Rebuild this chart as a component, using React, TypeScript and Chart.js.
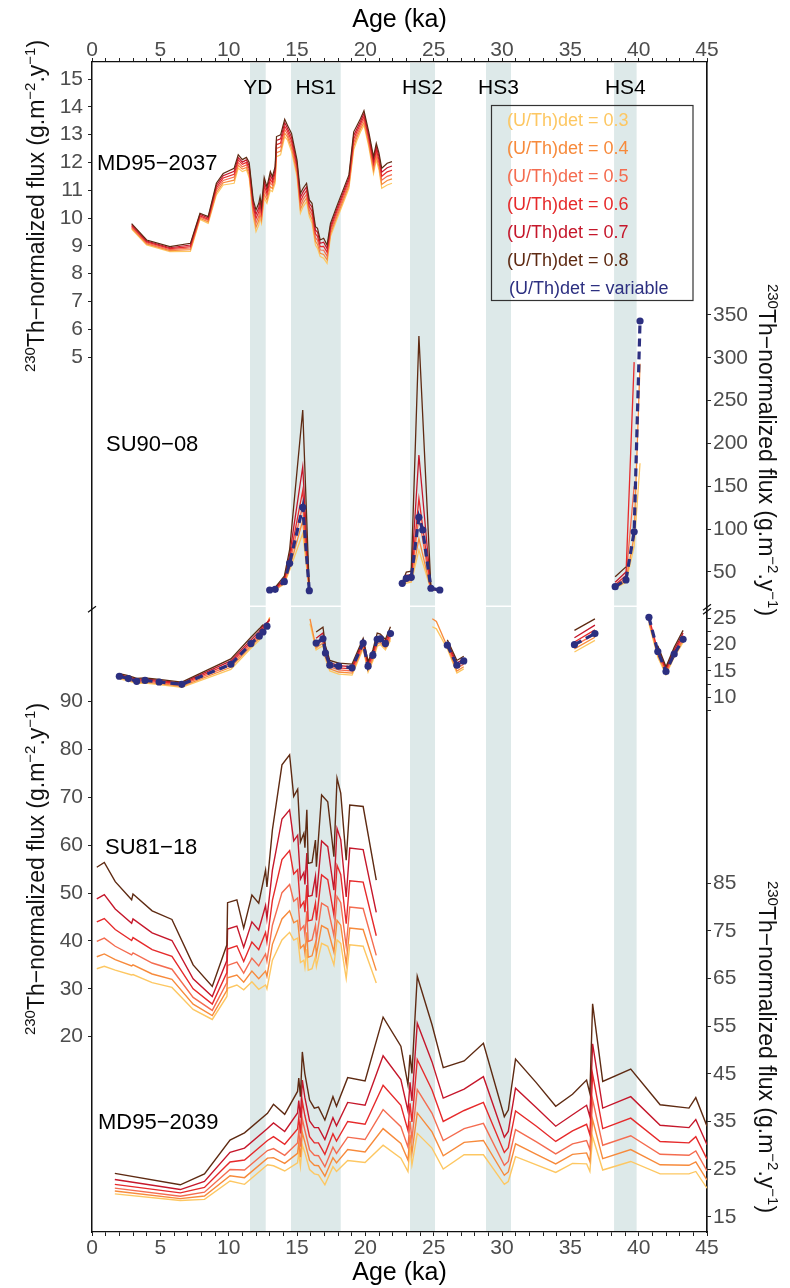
import { useEffect, useRef } from 'react';
import { Chart, registerables } from 'chart.js';

Chart.register(...registerables);

const FONT = "'Liberation Sans', Arial, Helvetica, sans-serif";

// ---------------- colours ----------------
const C03 = '#FDC762';
const C04 = '#F78A3B';
const C05 = '#F46C50';
const C06 = '#E62A2B';
const C07 = '#C5172B';
const C08 = '#5E2A12';
const NAVY = '#2C2F80';
const BAND = '#DDE9E9';

// ---------------- x axis & events ----------------
const xMajorLabels = [0, 5, 10, 15, 20, 25, 30, 35, 40, 45];
const bandNames = ['YD', 'HS1', 'HS2', 'HS3', 'HS4'];
const bandStart = [11.56, 14.56, 23.27, 28.83, 38.2];
const bandEnd = [12.71, 18.2, 25.1, 30.66, 39.85];

// ---------------- y tick labels ----------------
const md2037Ticks = [5, 6, 7, 8, 9, 10, 11, 12, 13, 14, 15];
const su9008UpperTicks = [50, 100, 150, 200, 250, 300, 350];
const su9008LowerTicks = [7.5, 10, 12.5, 15, 17.5, 20, 22.5, 25];
const su8118Ticks = [20, 30, 40, 50, 60, 70, 80, 90];
const md2039Ticks = [15, 25, 35, 45, 55, 65, 75, 85];

const legendLabels = [
  '(U/Th)det = 0.3', '(U/Th)det = 0.4', '(U/Th)det = 0.5',
  '(U/Th)det = 0.6', '(U/Th)det = 0.7', '(U/Th)det = 0.8', '(U/Th)det = variable',
];
const coreNames = ['MD95\u22122037', 'SU90\u221208', 'SU81\u221218', 'MD95\u22122039'];

// ---------------- MD95-2037 ----------------
const md2037Ages = [2.9, 4.0, 5.7, 7.2, 7.9, 8.5, 9.1, 9.6, 10.4, 10.7, 11.0, 11.3, 11.5, 11.8, 12.0, 12.2, 12.3, 12.4, 12.6, 12.8, 13.05, 13.2, 13.4, 13.5, 13.8, 14.1, 14.3, 14.6, 15.0, 15.25, 15.45, 15.7, 15.9, 16.1, 16.35, 16.5, 16.7, 16.95, 17.2, 17.45, 17.9, 18.8, 19.15, 19.4, 19.65, 19.9, 20.25, 20.6, 20.8, 21.0, 21.2, 21.6, 21.95];
const md2037U03 = [9.60, 9.03, 8.79, 8.80, 9.95, 9.81, 10.83, 11.19, 11.25, 11.80, 11.67, 11.73, 11.45, 10.05, 9.51, 9.75, 9.99, 9.81, 10.71, 10.53, 11.0, 10.95, 11.25, 12.21, 12.27, 12.93, 12.81, 12.39, 11.49, 10.17, 10.41, 10.59, 10.05, 9.81, 9.03, 8.91, 8.61, 8.55, 8.37, 9.33, 9.93, 11.07, 12.45, 12.81, 13.10, 13.34, 12.57, 11.60, 12.09, 11.73, 11.07, 11.19, 11.25];
const md2037U04 = [9.64, 9.07, 8.83, 8.86, 9.99, 9.86, 10.91, 11.27, 11.36, 11.90, 11.76, 11.82, 11.56, 10.17, 9.67, 9.91, 10.15, 9.93, 10.86, 10.65, 11.13, 11.06, 11.37, 12.35, 12.41, 13.05, 12.92, 12.52, 11.61, 10.31, 10.54, 10.72, 10.17, 9.95, 9.16, 9.05, 8.73, 8.69, 8.50, 9.43, 10.03, 11.17, 12.58, 12.92, 13.20, 13.44, 12.68, 11.72, 12.21, 11.85, 11.21, 11.35, 11.41];
const md2037U05 = [9.68, 9.10, 8.86, 8.92, 10.04, 9.91, 11.0, 11.35, 11.47, 11.99, 11.84, 11.91, 11.67, 10.29, 9.82, 10.06, 10.30, 10.05, 11.01, 10.77, 11.27, 11.17, 11.49, 12.50, 12.56, 13.18, 13.02, 12.65, 11.73, 10.46, 10.67, 10.85, 10.29, 10.10, 9.29, 9.20, 8.85, 8.84, 8.63, 9.52, 10.12, 11.26, 12.71, 13.02, 13.29, 13.55, 12.78, 11.84, 12.33, 11.97, 11.36, 11.50, 11.56];
const md2037U06 = [9.72, 9.14, 8.90, 8.97, 10.08, 9.95, 11.08, 11.44, 11.57, 12.09, 11.93, 12.0, 11.78, 10.41, 9.98, 10.22, 10.46, 10.17, 11.16, 10.88, 11.40, 11.27, 11.61, 12.64, 12.70, 13.30, 13.13, 12.78, 11.85, 10.60, 10.81, 10.99, 10.41, 10.24, 9.43, 9.34, 8.97, 8.98, 8.77, 9.62, 10.22, 11.36, 12.84, 13.13, 13.39, 13.65, 12.89, 11.96, 12.45, 12.09, 11.50, 11.66, 11.72];
const md2037U07 = [9.76, 9.17, 8.93, 9.03, 10.13, 10.0, 11.17, 11.52, 11.68, 12.18, 12.01, 12.09, 11.89, 10.53, 10.13, 10.37, 10.61, 10.29, 11.31, 11.0, 11.54, 11.38, 11.73, 12.79, 12.85, 13.43, 13.23, 12.91, 11.97, 10.75, 10.94, 11.12, 10.53, 10.39, 9.56, 9.49, 9.09, 9.13, 8.90, 9.71, 10.31, 11.45, 12.97, 13.23, 13.48, 13.76, 12.99, 12.08, 12.57, 12.21, 11.65, 11.81, 11.87];
const md2037U08 = [9.80, 9.21, 8.97, 9.09, 10.17, 10.05, 11.25, 11.60, 11.79, 12.28, 12.10, 12.18, 12.00, 10.65, 10.29, 10.53, 10.77, 10.41, 11.46, 11.12, 11.67, 11.49, 11.85, 12.93, 12.99, 13.55, 13.34, 13.04, 12.09, 10.89, 11.07, 11.25, 10.65, 10.53, 9.69, 9.63, 9.21, 9.27, 9.03, 9.81, 10.41, 11.55, 13.10, 13.34, 13.58, 13.86, 13.10, 12.20, 12.69, 12.33, 11.79, 11.97, 12.03];

// ---------------- SU90-08 (upper panel, large fluxes) ----------------
const su9008UpperAges = [13.0, 13.4, 14.07, 14.46, 15.42, 15.9, 19, 22.7, 23.0, 23.36, 23.92, 24.8, 25.45, 30, 38.28, 39.07, 39.67, 40.1];
const su9008UpperU03 = [28.5, 29.0, 36, 52, 95, 27.5, null, 34, 37, 38, 75.7, 29, 28, null, 31, 38, 80, 177];
const su9008UpperU04 = [29, 29.5, 37, 55, 110, 27.8, null, 35, 39, 40, 89.3, 29.5, 28.3, null, 32, 40, 92, 293];
const su9008UpperU05 = [29.5, 30, 38.5, 60, 128, 28, null, 35.5, 41, 42, 114.5, 30, 28.6, null, 33, 43, 150, null];
const su9008UpperU06 = [30, 30.5, 40, 65, 145, 28.2, null, 36, 43, 44, 136, 30.5, 28.9, null, 35, 46, 295, null];
const su9008UpperU07 = [30.5, 31, 42, 70, 173, 28.4, null, 37, 46, 47, 186.6, 31, 29.2, null, 38, 50, null, null];
const su9008UpperU08 = [31, 32, 45, 76, 239, 28.6, null, 38, 50, 51, 325.5, 31.5, 29.5, null, 44.5, 56, null, null];
const su9008UpperVarAges = [13.0, 13.4, 14.07, 14.46, 15.42, 15.9, 19, 22.7, 23.0, 23.36, 23.92, 24.2, 24.8, 25.45, 30, 38.28, 39.07, 39.67, 40.1];
const su9008UpperVar = [29.0, 29.8, 38.7, 60.1, 125.5, 28.2, null, 36.8, 42.6, 43.8, 113.8, 99.0, 31.0, 29.0, null, 32.9, 40.7, 97, 343];

// ---------------- SU90-08 (lower panel) ----------------
const su9008LowerAges = [2.0, 2.66, 3.27, 3.88, 4.91, 6.57, 10.16, 11.63, 12.24, 12.51, 13.0, 14.5, 15.95, 16.4, 16.9, 17.08, 17.4, 18.05, 19.03, 19.84, 20.2, 20.55, 20.87, 21.1, 21.47, 21.84, 23.5, 24.9, 25.2, 26.0, 26.7, 27.2, 31, 35.3, 36.8, 38.5, 40.75, 41.4, 42.0, 42.6, 43.25];
const su9008LowerU03 = [13.5, 13.1, 12.6, 12.7, 12.4, 11.9, 15.3, 19.3, 20.8, 22.0, 25.2, null, 24.0, 19.0, 19.8, 17.3, 15.0, 14.4, 14.2, 19.2, 14.8, 16.9, 19.7, 20.0, 19.0, 20.8, null, 23.4, 23.0, 19.2, 14.6, 15.4, null, 18.6, 20.8, null, 24.0, 17.6, 14.3, 17.6, 20.4];
const su9008LowerU04 = [13.7, 13.3, 12.8, 12.9, 12.6, 12.1, 15.7, 19.7, 21.2, 22.4, 25.0, null, 24.9, 19.4, 20.3, 17.7, 15.4, 14.8, 14.6, 19.6, 15.2, 17.3, 20.1, 20.4, 19.4, 21.2, null, 24.9, 24.4, 19.6, 15.0, 15.8, null, 19.2, 21.4, null, 24.4, 18.0, 14.6, 17.9, 20.8];
const su9008LowerU05 = [13.9, 13.5, 13.0, 13.1, 12.8, 12.3, 16.1, 20.1, 21.6, 22.8, 24.9, null, null, 19.9, 20.8, 18.1, 15.8, 15.2, 15.0, 20.0, 15.6, 17.7, 20.5, 20.8, 19.8, 21.6, null, null, null, 19.9, 15.5, 16.3, null, 19.8, 22.0, null, 24.8, 18.4, 14.9, 18.2, 21.2];
const su9008LowerU06 = [14.1, 13.7, 13.2, 13.3, 13.0, 12.5, 16.5, 20.5, 22.0, 23.2, 24.8, null, null, 20.4, 21.4, 18.6, 16.2, 15.6, 15.4, 20.4, 16.0, 18.1, 21.0, 21.2, 20.2, 22.0, null, null, null, 20.2, 16.0, 16.8, null, 20.5, 22.8, null, 25.2, 18.8, 15.2, 18.6, 21.7];
const su9008LowerU07 = [14.3, 13.9, 13.4, 13.5, 13.2, 12.7, 16.9, 20.9, 22.5, 23.6, 24.6, null, null, 21.2, 22.2, 19.2, 16.6, 16.0, 15.8, 20.8, 16.4, 18.5, 21.5, 21.6, 20.6, 22.6, null, null, null, 20.5, 16.5, 17.3, null, 21.3, 23.7, null, null, 19.3, 15.5, 19.0, 22.2];
const su9008LowerU08 = [14.5, 14.1, 13.6, 13.7, 13.4, 12.9, 17.3, 21.4, 23.0, 23.8, null, null, null, 22.4, 23.3, 19.8, 17.0, 16.5, 16.3, 21.2, 16.8, 19.0, 22.2, 22.0, 21.0, 23.4, null, null, null, 20.9, 17.0, 17.8, null, 22.7, 24.9, null, null, 19.8, 15.8, 19.5, 22.7];
const su9008LowerVarAges = [2.0, 2.66, 3.27, 3.88, 4.91, 6.57, 10.16, 11.63, 12.24, 12.51, 12.8, 14.5, 16.4, 16.9, 17.08, 17.4, 18.05, 19.03, 19.84, 20.2, 20.55, 20.87, 21.1, 21.47, 21.84, 23.5, 26.0, 26.7, 27.2, 31, 35.3, 36.8, 38.5, 40.75, 41.4, 42.0, 42.6, 43.25];
const su9008LowerVar = [14.0, 13.55, 13.04, 13.2, 12.9, 12.47, 16.27, 20.2, 21.6, 22.4, 23.5, null, 20.3, 21.1, 18.4, 16.1, 15.9, 15.6, 20.3, 15.9, 18.0, 21.0, 21.1, 20.2, 22.1, null, 19.9, 16.1, 16.9, null, 20.0, 22.1, null, 25.2, 18.7, 14.9, 18.2, 21.0];

// ---------------- SU81-18 ----------------
const su8118Ages = [0.35, 0.9, 1.7, 2.9, 3.0, 4.4, 5.85, 7.4, 8.8, 9.87, 9.92, 10.6, 11.1, 11.7, 12.2, 12.7, 12.8, 13.2, 13.9, 14.46, 14.76, 15.05, 15.25, 15.5, 15.58, 15.72, 15.82, 16.1, 16.35, 16.42, 16.8, 17.25, 17.7, 17.93, 18.2, 18.6, 18.86, 19.84, 20.8];
const su8118U03 = [34.2, 34.7, 33.9, 32.9, 33.0, 31.3, 30.3, 25.7, 23.6, 28.4, 30.1, 30.8, 29.8, 31.5, 29.9, 30.8, 30.0, 36.0, 40.2, 41.8, 40.2, 40.6, 35.5, 36.0, 34.5, 38.3, 33.9, 34.2, 36.7, 34.7, 39.5, 38.9, 35.0, 40.2, 39.5, 32.2, 39.2, 38.9, 31.2];
const su8118U04 = [36.7, 37.3, 36.1, 34.8, 35.0, 33.1, 32.0, 26.8, 24.4, 29.7, 32.3, 32.9, 31.4, 33.7, 32.1, 33.7, 32.6, 39.3, 44.6, 46.3, 43.8, 44.3, 38.5, 39.2, 37.5, 41.8, 36.6, 36.9, 39.6, 37.2, 43.2, 42.5, 37.7, 44.3, 43.3, 35.2, 42.7, 42.4, 33.8];
const su8118U05 = [39.9, 40.6, 38.9, 37.1, 37.5, 35.4, 34.1, 28.2, 25.5, 31.3, 34.9, 35.6, 33.3, 36.4, 34.8, 37.3, 35.8, 43.3, 50.1, 51.8, 48.3, 49.0, 42.3, 43.2, 41.3, 46.2, 39.9, 40.2, 43.3, 40.3, 47.9, 47.1, 41.1, 49.3, 48.0, 38.9, 47.1, 46.8, 37.0];
const su8118U06 = [44.0, 44.7, 42.4, 40.1, 40.7, 38.2, 36.8, 30.0, 26.8, 33.4, 38.3, 39.0, 35.7, 39.8, 38.2, 41.8, 39.8, 48.5, 57.0, 58.9, 54.0, 54.9, 47.1, 48.2, 46.0, 51.7, 44.2, 44.4, 47.9, 44.3, 53.8, 52.8, 45.4, 55.8, 53.9, 43.6, 52.6, 52.3, 41.1];
const su8118U07 = [48.8, 49.7, 46.7, 43.7, 44.6, 41.7, 40.1, 32.1, 28.4, 35.9, 42.5, 43.1, 38.7, 44.0, 42.3, 47.4, 44.7, 54.8, 65.5, 67.4, 60.9, 62.1, 52.9, 54.3, 51.8, 58.4, 49.3, 49.5, 53.5, 49.1, 60.9, 59.7, 50.6, 63.5, 61.2, 49.2, 59.4, 59.1, 46.0];
const su8118U08 = [55.4, 56.4, 52.4, 48.6, 49.8, 46.3, 44.5, 35.0, 30.5, 39.2, 48.0, 48.6, 42.7, 49.6, 47.9, 54.8, 51.3, 63.2, 76.8, 78.9, 70.2, 71.7, 60.7, 62.5, 59.5, 67.4, 56.2, 56.4, 61.1, 55.5, 70.5, 69.1, 57.6, 74.0, 70.9, 56.9, 68.4, 68.1, 52.7];

// ---------------- MD95-2039 ----------------
const md2039Ages = [1.67, 6.46, 8.23, 10.1, 11.16, 12.84, 13.28, 14.1, 15.04, 15.13, 15.25, 15.39, 15.57, 15.92, 16.27, 16.57, 17.04, 17.63, 17.89, 18.71, 19.98, 21.3, 22.6, 23.12, 23.27, 23.41, 23.8, 24.88, 25.7, 27.23, 28.64, 30.17, 30.46, 30.99, 32.52, 33.93, 35.16, 36.19, 36.43, 36.63, 37.37, 39.42, 41.57, 43.68, 44.18, 45.0];
const md2039U03 = [19.8, 18.4, 18.65, 22.5, 21.8, 25.9, 25.7, 24.6, 26.3, 28.5, 25.6, 30.0, 28.5, 24.9, 24.0, 23.8, 21.7, 25.5, 24.5, 26.8, 26.4, 30.0, 27.3, 24.5, 29.7, 25.9, 32.5, 29.4, 25.0, 28.0, 28.0, 21.8, 22.4, 27.6, 25.9, 24.3, 26.2, 26.1, 24.5, 31.8, 24.8, 26.6, 24.0, 24.0, 24.5, 21.0];
const md2039U04 = [20.4, 18.8, 19.35, 23.6, 23.2, 27.3, 27.4, 26.2, 28.3, 30.5, 27.5, 32.6, 30.7, 26.8, 25.8, 25.7, 23.5, 27.4, 26.3, 29.1, 28.6, 33.5, 30.4, 26.9, 32.2, 28.4, 36.8, 32.8, 27.8, 30.6, 31.0, 23.7, 24.4, 30.3, 28.1, 26.1, 28.1, 28.4, 26.6, 35.4, 27.2, 29.1, 25.9, 25.8, 26.5, 22.7];
const md2039U05 = [21.0, 19.3, 20.15, 24.9, 24.8, 28.9, 29.3, 27.9, 30.5, 32.9, 29.7, 35.5, 33.2, 29.0, 27.9, 27.8, 25.5, 29.6, 28.3, 31.7, 31.2, 37.5, 33.9, 29.6, 35.1, 31.3, 41.7, 36.7, 31.0, 33.5, 34.6, 25.8, 26.6, 33.3, 30.7, 28.2, 30.3, 31.0, 29.1, 39.6, 30.0, 32.0, 28.1, 27.9, 28.8, 24.6];
const md2039U06 = [21.8, 20.0, 21.16, 26.5, 26.9, 31.0, 31.8, 30.2, 33.4, 35.8, 32.5, 39.2, 36.3, 31.8, 30.5, 30.5, 28.1, 32.4, 30.9, 35.0, 34.4, 42.6, 38.4, 33.1, 38.8, 34.9, 48.0, 41.6, 35.0, 37.3, 39.0, 28.5, 29.5, 37.2, 34.0, 30.8, 33.0, 34.4, 32.2, 44.9, 33.5, 35.7, 30.8, 30.5, 31.8, 27.1];
const md2039U07 = [22.8, 20.7, 22.4, 28.5, 29.4, 33.5, 34.7, 32.9, 36.8, 39.4, 35.8, 43.7, 40.1, 35.1, 33.7, 33.7, 31.2, 35.8, 34.1, 39.0, 38.4, 48.8, 43.8, 37.2, 43.2, 39.3, 55.6, 47.5, 39.9, 41.8, 44.4, 31.7, 32.9, 42.0, 37.9, 34.0, 36.4, 38.4, 36.0, 51.3, 37.8, 40.2, 34.2, 33.7, 35.4, 30.1];
const md2039U08 = [24.1, 21.7, 24.0, 31.1, 32.6, 36.7, 38.6, 36.5, 41.3, 44.1, 40.2, 49.6, 45.1, 39.5, 37.8, 38.0, 35.3, 40.2, 38.2, 44.2, 43.5, 56.9, 50.8, 42.7, 49.0, 45.1, 65.5, 55.3, 46.3, 47.7, 51.4, 36.0, 37.4, 48.1, 43.1, 38.2, 40.7, 43.7, 40.9, 59.7, 43.4, 46.0, 38.5, 37.8, 40.0, 34.0];

// ---------------- axis ranges (stacked panels share one plot frame) ----------------
const yARange = [-26.475, 15.612];
const yBRange = [-720.4, 645.3];
const yCRange = [-91.53, 130.63];
const yDRange = [-20.81, 223.67];
const yERange = [11.79, 257.44];
const BREAK_VALUE = 27.3; // on the lower SU90-08 scale

const pts = (ages: number[], vals: (number | null)[]) => ages.map((a, i) => ({ x: a, y: vals[i] }));

const line = (label: string, ages: number[], vals: (number | null)[], color: string, yAxisID: string, width = 1.4) => ({
  label,
  data: pts(ages, vals),
  borderColor: color,
  backgroundColor: color,
  borderWidth: width,
  pointRadius: 0,
  pointHoverRadius: 0,
  tension: 0,
  fill: false,
  spanGaps: false,
  xAxisID: 'x',
  yAxisID,
});

const varLine = (ages: number[], vals: (number | null)[], yAxisID: string) => ({
  label: 'variable',
  data: pts(ages, vals),
  borderColor: NAVY,
  backgroundColor: NAVY,
  borderWidth: 3.2,
  borderDash: [8, 5],
  pointRadius: 3.6,
  pointBorderWidth: 0,
  pointBackgroundColor: NAVY,
  tension: 0,
  fill: false,
  spanGaps: false,
  xAxisID: 'x',
  yAxisID,
});

const colours = [C08, C07, C06, C05, C04, C03];

function coreSets(ages: number[], series: (number | null)[][], yAxisID: string, width: number) {
  // series given as [0.3, 0.4, 0.5, 0.6, 0.7, 0.8]; draw 0.8 on top
  const out: any[] = [];
  for (let k = 5; k >= 0; k--) {
    out.push(line(legendLabels[k], ages, series[k], colours[5 - k], yAxisID, width));
  }
  return out;
}

const datasets = [
  varLine(su9008UpperVarAges, su9008UpperVar, 'yB'),
  varLine(su9008LowerVarAges, su9008LowerVar, 'yC'),
  ...coreSets(md2037Ages, [md2037U03, md2037U04, md2037U05, md2037U06, md2037U07, md2037U08], 'yA', 1.2),
  ...coreSets(su9008UpperAges, [su9008UpperU03, su9008UpperU04, su9008UpperU05, su9008UpperU06, su9008UpperU07, su9008UpperU08], 'yB', 1.3),
  ...coreSets(su9008LowerAges, [su9008LowerU03, su9008LowerU04, su9008LowerU05, su9008LowerU06, su9008LowerU07, su9008LowerU08], 'yC', 1.3),
  ...coreSets(su8118Ages, [su8118U03, su8118U04, su8118U05, su8118U06, su8118U07, su8118U08], 'yD', 1.4),
  ...coreSets(md2039Ages, [md2039U03, md2039U04, md2039U05, md2039U06, md2039U07, md2039U08], 'yE', 1.4),
];

const TICK_FONT = { family: FONT, size: 21, lineHeight: 1 };
const flatten = (s: any) => {
  s.paddingTop = 0; s.paddingBottom = 0; s.paddingLeft = 0; s.paddingRight = 0;
  // zero-size axis boxes: do not clip the tick labels to the box
  s._computeLabelArea = () => null;
};

function yAxis(position: 'left' | 'right', range: number[], tickVals: number[], labelFn: (v: number) => string) {
  return {
    type: 'linear',
    position,
    min: range[0],
    max: range[1],
    bounds: 'data',
    afterBuildTicks: (s: any) => { s.ticks = tickVals.map((v) => ({ value: v })); },
    afterFit: (s: any) => { s.width = 0; flatten(s); },
    grid: { drawOnChartArea: false, drawTicks: true, tickLength: 4, tickColor: '#222', tickWidth: 1 },
    border: { display: true, color: '#111', width: 1.3 },
    ticks: {
      autoSkip: false,
      padding: position === 'left' ? 5 : 2,
      color: '#4D4D4D',
      font: TICK_FONT,
      callback: (v: number) => labelFn(v),
    },
    title: { display: false },
  };
}

function xAxis(position: 'top' | 'bottom') {
  return {
    type: 'linear',
    position,
    min: 0,
    max: 45,
    bounds: 'data',
    afterBuildTicks: (s: any) => { s.ticks = Array.from({ length: 46 }, (_, i) => ({ value: i })); },
    afterFit: (s: any) => { s.height = 0; flatten(s); },
    grid: { drawOnChartArea: false, drawTicks: true, tickLength: 4, tickColor: '#222', tickWidth: 1 },
    border: { display: true, color: '#111', width: 1.3 },
    ticks: {
      autoSkip: false,
      maxRotation: 0,
      minRotation: 0,
      padding: position === 'top' ? -2.5 : 1.5,
      color: '#4D4D4D',
      font: TICK_FONT,
      callback: (v: number) => (xMajorLabels.includes(v) ? String(v) : ''),
    },
    title: { display: false },
  };
}

type Part = { t: string; sup?: boolean };
const yTitleParts: Part[] = [
  { t: '230', sup: true },
  { t: 'Th\u2212normalized flux (g.m' },
  { t: '\u22122', sup: true },
  { t: '.y' },
  { t: '\u22121', sup: true },
  { t: ')' },
];

function drawRich(ctx: CanvasRenderingContext2D, parts: Part[], cx: number, cy: number, angle: number) {
  const size = 23, supSize = 15, rise = 9;
  ctx.save();
  ctx.translate(cx, cy);
  ctx.rotate(angle);
  ctx.fillStyle = '#111';
  ctx.textAlign = 'left';
  ctx.textBaseline = 'alphabetic';
  const widths = parts.map((p) => {
    ctx.font = `${p.sup ? supSize : size}px ${FONT}`;
    return ctx.measureText(p.t).width;
  });
  const total = widths.reduce((a, b) => a + b, 0);
  let x = -total / 2;
  parts.forEach((p, i) => {
    ctx.font = `${p.sup ? supSize : size}px ${FONT}`;
    ctx.fillText(p.t, x, p.sup ? -rise : 0);
    x += widths[i];
  });
  ctx.restore();
}

const decorPlugin = {
  id: 'decor',
  beforeDatasetsDraw(chart: any) {
    const { ctx, chartArea: ca, scales } = chart;
    const xs = scales.x;
    ctx.save();
    ctx.fillStyle = BAND;
    for (let i = 0; i < bandStart.length; i++) {
      const a = xs.getPixelForValue(bandStart[i]);
      const b = xs.getPixelForValue(bandEnd[i]);
      ctx.fillRect(a, ca.top + 1, b - a, ca.bottom - ca.top - 2);
    }
    const yb = scales.yC.getPixelForValue(BREAK_VALUE);
    ctx.strokeStyle = '#FFFFFF';
    ctx.lineWidth = 1.5;
    ctx.beginPath();
    ctx.moveTo(ca.left + 1, yb);
    ctx.lineTo(ca.right - 1, yb);
    ctx.stroke();
    ctx.restore();
  },
  afterDraw(chart: any) {
    const { ctx, scales, chartArea: ca } = chart;
    const xs = scales.x;
    ctx.save();
    // event labels
    ctx.fillStyle = '#000';
    ctx.font = `21px ${FONT}`;
    ctx.textAlign = 'center';
    ctx.textBaseline = 'alphabetic';
    bandNames.forEach((n, i) => {
      const c = (xs.getPixelForValue(bandStart[i]) + xs.getPixelForValue(bandEnd[i])) / 2;
      ctx.fillText(n, c, 94);
    });
    // core labels
    ctx.font = `22px ${FONT}`;
    ctx.textAlign = 'left';
    const corePos = [[97, 170], [106, 451], [105, 854], [98, 1129]];
    coreNames.forEach((n, i) => ctx.fillText(n, corePos[i][0], corePos[i][1]));
    // x titles
    ctx.font = `25px ${FONT}`;
    ctx.textAlign = 'center';
    const cx = (ca.left + ca.right) / 2;
    ctx.fillText('Age (ka)', cx, 27);
    ctx.fillText('Age (ka)', cx, 1280);
    // y titles
    drawRich(ctx, yTitleParts, 44, 206, -Math.PI / 2);
    drawRich(ctx, yTitleParts, 44, 869, -Math.PI / 2);
    drawRich(ctx, yTitleParts, 759, 450, Math.PI / 2);
    drawRich(ctx, yTitleParts, 759, 1047, Math.PI / 2);
    // legend
    ctx.strokeStyle = '#333';
    ctx.lineWidth = 1.2;
    ctx.strokeRect(491.5, 105.5, 201.5, 195);
    ctx.font = `18px ${FONT}`;
    ctx.textAlign = 'left';
    const legCols = [C03, C04, C05, C06, C07, C08, NAVY];
    legendLabels.forEach((t, i) => {
      ctx.fillStyle = legCols[i];
      ctx.fillText(t, i === 6 ? 509 : 507, 126 + 28 * i);
    });
    // axis break marks
    const yb = scales.yC.getPixelForValue(BREAK_VALUE) + 3;
    ctx.strokeStyle = '#111';
    ctx.lineWidth = 1.2;
    ctx.beginPath();
    ctx.moveTo(ca.left - 4, yb + 3);
    ctx.lineTo(ca.left + 4, yb - 3);
    ctx.moveTo(ca.right - 4, yb + 1);
    ctx.lineTo(ca.right + 4, yb - 5);
    ctx.moveTo(ca.right - 4, yb + 5);
    ctx.lineTo(ca.right + 4, yb - 1);
    ctx.stroke();
    ctx.restore();
  },
};

export default function App() {
  const ref = useRef<HTMLCanvasElement>(null);
  useEffect(() => {
    const canvas = ref.current;
    if (!canvas) return;
    const chart = new Chart(canvas, {
      type: 'line',
      data: { datasets: datasets as any },
      options: {
        responsive: false,
        animation: false,
        devicePixelRatio: 1,
        events: [],
        layout: { padding: { left: 92, right: 83, top: 62, bottom: 56 }, autoPadding: false } as any,
        plugins: { legend: { display: false }, tooltip: { enabled: false }, title: { display: false } },
        elements: { line: { tension: 0 }, point: { radius: 0 } },
        scales: {
          x: xAxis('bottom') as any,
          xTop: xAxis('top') as any,
          yA: yAxis('left', yARange, md2037Ticks, (v) => String(v)) as any,
          yD: yAxis('left', yDRange, su8118Ticks, (v) => String(v)) as any,
          yB: yAxis('right', yBRange, su9008UpperTicks, (v) => String(v)) as any,
          yC: yAxis('right', yCRange, su9008LowerTicks, (v) => (v % 5 === 0 ? String(v) : '')) as any,
          yE: yAxis('right', yERange, md2039Ticks, (v) => String(v)) as any,
        },
      },
      plugins: [decorPlugin],
    });
    return () => chart.destroy();
  }, []);
  return (
    <div style={{ position: 'absolute', left: 0, top: 0, width: 790, height: 1288, background: '#fff' }}>
      <canvas ref={ref} width={790} height={1288} style={{ display: 'block', width: 790, height: 1288 }} />
    </div>
  );
}
